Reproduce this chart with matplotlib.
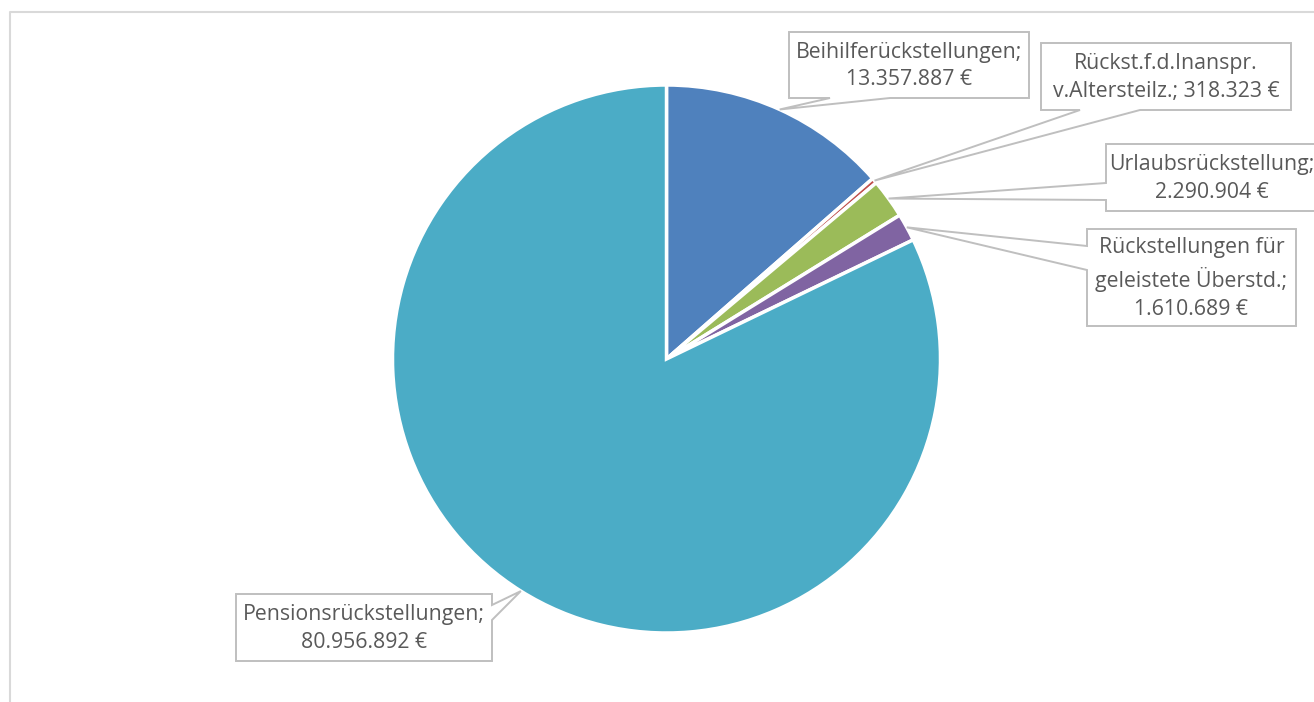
import matplotlib.pyplot as plt
import numpy as np
from matplotlib.patches import Polygon
from matplotlib.lines import Line2D

# Data
labels = ['Beihilferückstellungen;\n13.357.887 €',
          'Rückst.f.d.Inanspr.\nv.Altersteilz.; 318.323 €',
          'Urlaubsrückstellung;\n2.290.904 €',
          'Rückstellungen für\ngeleistete Überstd.;\n1.610.689 €',
          'Pensionsrückstellungen;\n80.956.892 €']
values = [13357887, 318323, 2290904, 1610689, 80956892]
colors = ['#4F81BD', '#C0504D', '#9BBB59', '#8064A2', '#4BACC6']

# Callout boxes in pixel coords: (x0, y0, x1, y1), side of the wedge, wedge base span
boxes = [(789, 32, 1029, 98), (1041, 43, 1291, 110), (1106, 144, 1318, 211),
         (1087, 229, 1296, 326), (236, 594, 492, 661)]
sides = ['bottom', 'bottom', 'left', 'left', 'right']
bases = [(830, 890), (1080, 1140), (183, 200), (246, 270), (605, 620)]

W, H = 1314, 702
cx, cy, r = 666.5, 359, 274

plt.rcParams['font.family'] = ['Open Sans', 'DejaVu Sans']

fig = plt.figure(figsize=(W / 100, H / 100), dpi=100)
ax = fig.add_axes([0, 0, 1, 1])

# y axis inverted -> counterclockwise in data is clockwise on screen
wedges, _ = ax.pie(values, colors=colors, center=(cx, cy), radius=r,
                   startangle=-90, counterclock=True,
                   wedgeprops=dict(edgecolor='white', linewidth=2.5))
ax.set_xlim(0, W)
ax.set_ylim(H, 0)
ax.set_aspect('equal')
ax.axis('off')


def callout_poly(box, side, base, tip):
    x0, y0, x1, y1 = box
    b1, b2 = base
    if side == 'bottom':
        pts = [(x0, y0), (x1, y0), (x1, y1), (b2, y1), tip, (b1, y1), (x0, y1)]
    elif side == 'left':
        pts = [(x0, y0), (x1, y0), (x1, y1), (x0, y1), (x0, b2), tip, (x0, b1)]
    else:  # right
        pts = [(x0, y0), (x1, y0), (x1, b1), tip, (x1, b2), (x1, y1), (x0, y1)]
    return pts


for w, lab, box, side, base in zip(wedges, labels, boxes, sides, bases):
    mid = np.deg2rad((w.theta1 + w.theta2) / 2)
    tip = (cx + r * np.cos(mid), cy + r * np.sin(mid))
    poly = Polygon(callout_poly(box, side, base, tip), closed=True,
                   facecolor='white', edgecolor='#BFBFBF', linewidth=1.4, zorder=5)
    ax.add_patch(poly)
    ax.text((box[0] + box[2]) / 2, (box[1] + box[3]) / 2 + 1, lab, ha='center', va='center',
            multialignment='center', fontsize=15.3, color='#595959', linespacing=1.42,
            zorder=6, clip_on=True)

# chart area border (left and top visible)
fig.add_artist(Line2D([9.5 / W, 9.5 / W, 1], [0, 1 - 11.5 / H, 1 - 11.5 / H],
                      transform=fig.transFigure, color='#D9D9D9', linewidth=1.5))

fig.savefig('out.png', dpi=100)
